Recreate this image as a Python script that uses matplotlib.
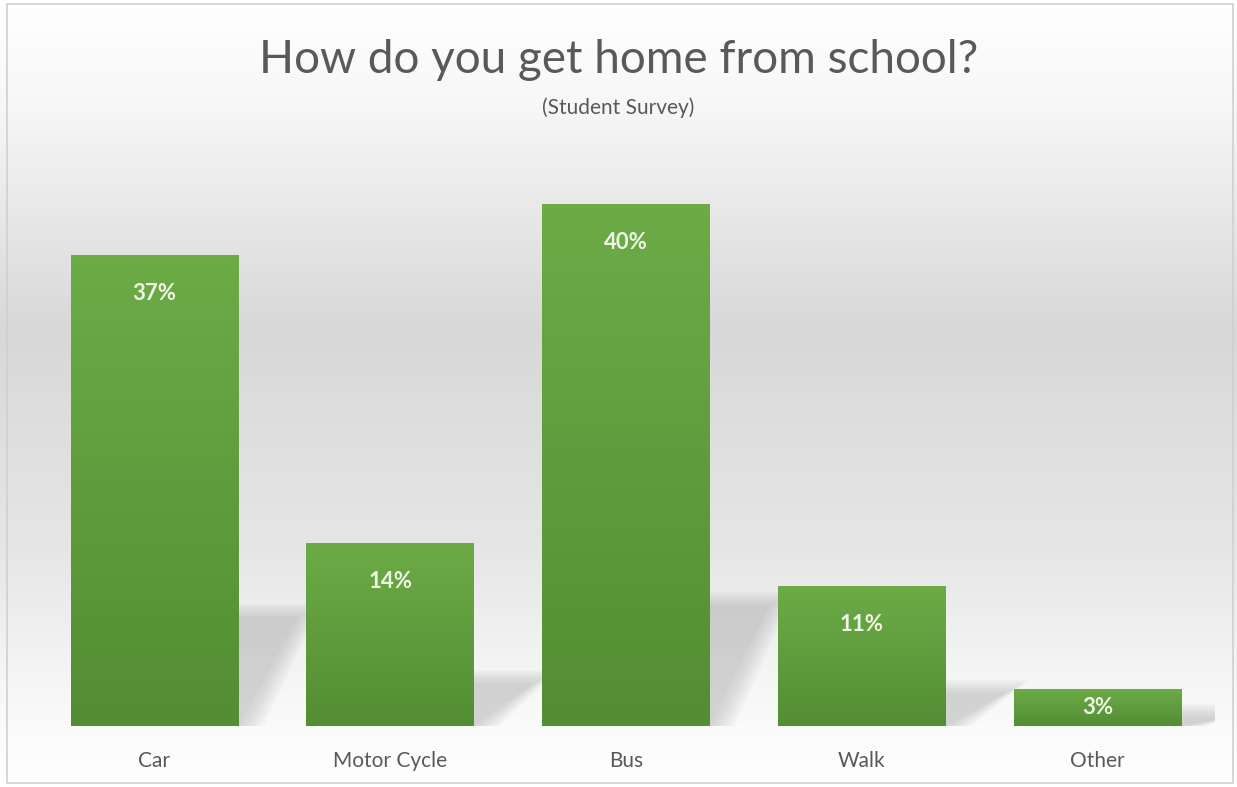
import numpy as np
import matplotlib.pyplot as plt
from matplotlib.colors import LinearSegmentedColormap
from matplotlib.patches import Polygon, Rectangle

# data
modes = ['Car', 'Motor Cycle', 'Bus', 'Walk', 'Other']
shares = [36.1, 14.0, 40.0, 10.7, 2.8]
share_labels = ['37%', '14%', '40%', '11%', '3%']

plt.rcParams['font.family'] = ['Lato', 'DejaVu Sans']

fig = plt.figure(figsize=(12.37, 7.87), dpi=100)

# background gradient (white -> grey -> white)
bg = fig.add_axes([0, 0, 1, 1], zorder=0)
bg_cmap = LinearSegmentedColormap.from_list('bg', [
    (0.00, '#ffffff'), (0.13, '#f7f7f7'), (0.42, '#d8d8d8'),
    (0.70, '#e6e6e6'), (0.88, '#f7f7f7'), (1.00, '#ffffff')])
bg.imshow(np.linspace(0, 1, 400)[:, None], aspect='auto', cmap=bg_cmap,
          extent=[0, 1, 0, 1], origin='upper')
bg.set_xlim(0, 1)
bg.set_ylim(0, 1)
bg.axis('off')
bg.add_patch(Rectangle((7 / 1237, 4 / 787), 1226 / 1237, 779 / 787,
                       fill=False, edgecolor='#d0d0d0', lw=1.2))

ax = fig.add_axes([0.0295, 0.0775, 0.953, 0.7459], zorder=1)
ax.patch.set_alpha(0)
ax.set_xlim(-0.5, 4.5)
ax.set_ylim(0, 45)

x = np.arange(len(modes))
width = 0.71

# soft shadows cast up and to the right
for xi, h in zip(x, shares):
    x0, x1 = xi - width / 2, xi + width / 2
    sh = 0.23 * h
    dx = 0.25
    for k in range(10):
        g = 0.012 * k
        poly = Polygon([(x0 + 0.03, 0), (x1 + g, 0),
                        (x1 + dx + g, sh + g * 10), (x0 + dx, sh + g * 10)],
                       closed=True, facecolor='#a8a8a8', edgecolor='none',
                       alpha=0.055, zorder=1)
        ax.add_patch(poly)

bars = ax.bar(x, shares, width=width, color='#609e3d', zorder=2)

bar_cmap = LinearSegmentedColormap.from_list('bar', ['#6cab46', '#548d34'])
for b in bars:
    bx, by = b.get_x(), b.get_y()
    im = ax.imshow(np.linspace(0, 1, 100)[:, None], aspect='auto', cmap=bar_cmap,
                   extent=[bx, bx + b.get_width(), by, by + b.get_height()],
                   origin='upper', zorder=3)
    im.set_clip_path(b)

for xi, h, lab in zip(x, shares, share_labels):
    ax.text(xi, max(h - 2.95, h / 2), lab, ha='center', va='center',
            fontsize=16, fontweight='bold', color='#eef6e6', zorder=4)

ax.set_xticks(x)
ax.set_xticklabels(modes, fontsize=15, color='#595959')
ax.tick_params(axis='x', length=0, pad=18)
ax.set_yticks([])
for s in ax.spines.values():
    s.set_visible(False)

fig.text(0.5, 1 - 60 / 787, 'How do you get home from school?', ha='center',
         va='center', fontsize=33, color='#595959', zorder=5)
fig.text(0.5, 1 - 108 / 787, '(Student Survey)', ha='center', va='center',
         fontsize=15, color='#595959', zorder=5)

fig.savefig('out.png', dpi=100)
